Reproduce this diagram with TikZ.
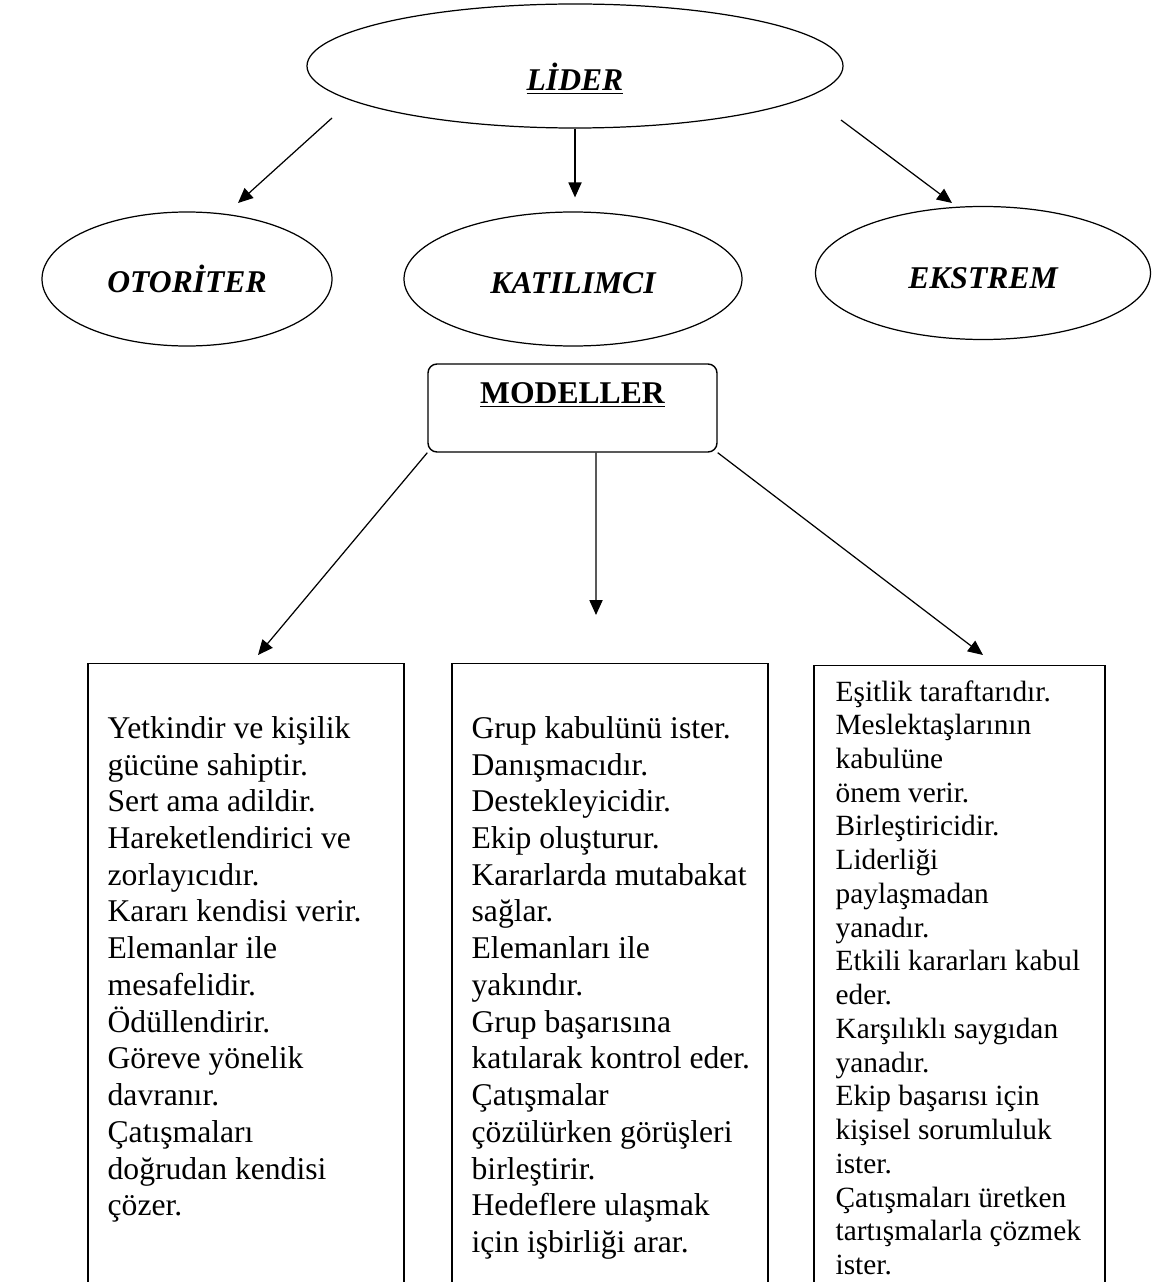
\documentclass[tikz,border=0pt]{standalone}
\usepackage{fontspec}
\setmainfont{Liberation Serif}
\usetikzlibrary{
  arrows.meta,
  positioning,
  shapes.geometric,
}
\definecolor{inkcol}{RGB}{0,0,0}
\tikzset{
  ovalnode/.style={
    ellipse, draw=inkcol, line width=0.7pt, inner sep=0pt,
    font=\fontsize{18}{21}\selectfont\bfseries\itshape
  },
  modbox/.style={
    rectangle, draw=inkcol, line width=0.8pt, rounded corners=1.8mm,
    minimum width=57.8mm, minimum height=17.6mm, inner sep=0pt,
    font=\fontsize{18}{21}\selectfont\bfseries
  },
  colbox/.style={
    rectangle, draw=inkcol, line width=0.8pt, anchor=north,
    minimum height=130mm, inner sep=0pt
  },
  coltext/.style={
    anchor=north west, inner sep=0pt, align=left,
    font=\fontsize{18}{20.9}\selectfont
  },
  linkarrow/.style={-{Triangle[length=8.5pt,width=7.5pt]}, line width=0.7pt, inkcol},
}

\begin{document}
\begin{tikzpicture}[x=0.2mm, y=-0.2mm]

  \path[use as bounding box] (0,0) rectangle (1155,1282);
  \clip (0,0) rectangle (1155,1282);

  % ── Leader and types ──
  \node[ovalnode, minimum width=107.2mm, minimum height=24.8mm,
        text height=31pt, text depth=3pt] (lider) at (575,66) {\underline{LİDER}};
  \node[ovalnode, minimum width=58mm,   minimum height=26.8mm] (otoriter)  at (187,279) {OTORİTER};
  \node[ovalnode, minimum width=67.6mm, minimum height=26.8mm,
        text height=16.5pt, text depth=0pt] (katilimci) at (573,279) {KATILIMCI};
  \node[ovalnode, minimum width=67mm,   minimum height=26.6mm,
        text height=17.5pt, text depth=0pt] (ekstrem)   at (983,273) {EKSTREM};

  % ── Models ──
  \node[modbox, text depth=17pt] (modeller) at (572.5,408) {\underline{MODELLER}};

  % ── Columns ──
  \node[colbox, minimum width=63.2mm] (boxA) at (246,663) {};
  \node[colbox, minimum width=63.2mm] (boxB) at (610,663) {};
  \node[colbox, minimum width=58.2mm] (boxC) at (959.5,665) {};

  \node[coltext] (txtA) at ([shift={(20,53)}]boxA.north west) {%
    Yetkindir ve kişilik\\
    gücüne sahiptir.\\
    Sert ama adildir.\\
    Hareketlendirici ve\\
    zorlayıcıdır.\\
    Kararı kendisi verir.\\
    Elemanlar ile\\
    mesafelidir.\\
    Ödüllendirir.\\
    Göreve yönelik\\
    davranır.\\
    Çatışmaları\\
    doğrudan kendisi\\
    çözer.};
  \node[coltext] (txtB) at ([shift={(20,53)}]boxB.north west) {%
    Grup kabulünü ister.\\
    Danışmacıdır.\\
    Destekleyicidir.\\
    Ekip oluşturur.\\
    Kararlarda mutabakat\\
    sağlar.\\
    Elemanları ile\\
    yakındır.\\
    Grup başarısına\\
    katılarak kontrol eder.\\
    Çatışmalar\\
    çözülürken görüşleri\\
    birleştirir.\\
    Hedeflere ulaşmak\\
    için işbirliği arar.};
  \node[coltext, font=\fontsize{16.7}{19.2}\selectfont] (txtC) at ([shift={(22,15)}]boxC.north west) {%
    Eşitlik taraftarıdır.\\
    Meslektaşlarının\\
    kabulüne\\
    önem verir.\\
    Birleştiricidir.\\
    Liderliği\\
    paylaşmadan\\
    yanadır.\\
    Etkili kararları kabul\\
    eder.\\
    Karşılıklı saygıdan\\
    yanadır.\\
    Ekip başarısı için\\
    kişisel sorumluluk\\
    ister.\\
    Çatışmaları üretken\\
    tartışmalarla çözmek\\
    ister.};

  % ── Edges ──
  \draw[linkarrow] ([shift={(-243,52)}]lider.center) -- ([shift={(51,-76)}]otoriter.center);
  \draw[linkarrow, shorten >=2.8mm] (lider.south) -- (lider.south |- katilimci.north);
  \draw[linkarrow] ([shift={(266,54)}]lider.center) -- ([shift={(-31,-70)}]ekstrem.center);

  \draw[linkarrow] (modeller.south west) -- ([shift={(12,-8)}]boxA.north);
  \draw[linkarrow] ([xshift=4.7mm]modeller.south) -- ([shift={(-14,-48)}]boxB.north);
  \draw[linkarrow] (modeller.south east) -- ([shift={(23.5,-10)}]boxC.north);

\end{tikzpicture}
\end{document}
